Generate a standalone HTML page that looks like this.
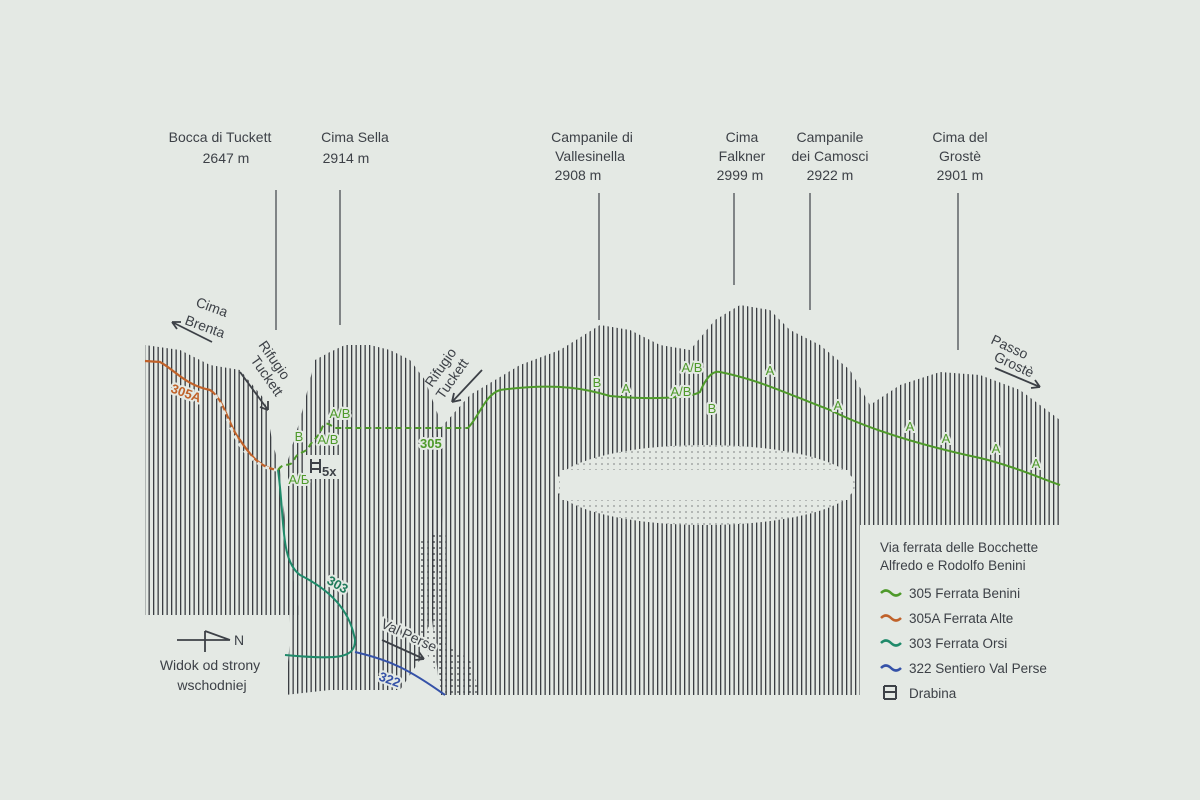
<!DOCTYPE html>
<html><head><meta charset="utf-8"><style>
html,body{margin:0;padding:0;background:#e4e9e4;}
svg{display:block}
text{font-family:"Liberation Sans",sans-serif;fill:#3d4147;}
.g{fill:#4e9a2a;stroke:#e4e9e4;stroke-width:4px;paint-order:stroke;stroke-linejoin:round}
.hl{stroke:#e4e9e4;stroke-width:4px;paint-order:stroke;stroke-linejoin:round}
</style></head><body>
<svg width="1200" height="800" viewBox="0 0 1200 800" xmlns="http://www.w3.org/2000/svg">
<defs>
<pattern id="h" width="4.5" height="12" patternUnits="userSpaceOnUse">
<rect x="0" y="0" width="1.3" height="12" fill="#3a3d42"/>
</pattern>
<pattern id="d" width="6" height="6" patternUnits="userSpaceOnUse">
<circle cx="2" cy="2" r="0.9" fill="#3a3d42"/>
</pattern>
</defs>
<rect width="1200" height="800" fill="#e4e9e4"/>

<polygon fill="url(#h)" points="145,345 180,350 210,365 240,370 265,400 272,440 280,470 285,520 290,560 300,615 145,615"/>
<polygon fill="url(#h)" points="285,470 300,420 315,360 330,352 345,345 370,345 390,350 410,360 425,380 440,420 445,470 440,560 430,620 420,660 400,690 330,690 285,695 290,640"/>
<polygon fill="url(#h)" points="430,440 470,395 520,365 560,350 600,325 630,330 660,345 690,350 715,320 740,305 770,310 790,330 820,345 850,370 870,405 900,385 940,372 980,375 1020,390 1060,420 1060,525 860,525 860,695 440,695 430,600"/>
<ellipse cx="705" cy="485" rx="150" ry="40" fill="#e4e9e4"/>
<ellipse cx="705" cy="485" rx="150" ry="40" fill="url(#d)" opacity="0.5"/>
<rect x="560" y="470" width="290" height="30" fill="#e4e9e4"/>
<polygon fill="url(#d)" points="420,540 445,530 450,620 440,680 420,640"/>
<polygon fill="url(#d)" points="440,640 470,660 480,695 440,695"/>

<g stroke="#3d4147" stroke-width="1.2">
<line x1="276" y1="190" x2="276" y2="330"/>
<line x1="340" y1="190" x2="340" y2="325"/>
<line x1="599" y1="193" x2="599" y2="320"/>
<line x1="734" y1="193" x2="734" y2="285"/>
<line x1="810" y1="193" x2="810" y2="310"/>
<line x1="958" y1="193" x2="958" y2="350"/>
</g>

<g font-size="14" text-anchor="middle">
<text x="220" y="142">Bocca di Tuckett</text><text x="226" y="163">2647 m</text>
<text x="355" y="142">Cima Sella</text><text x="346" y="163">2914 m</text>
<text x="592" y="142">Campanile di</text><text x="590" y="161">Vallesinella</text><text x="578" y="180">2908 m</text>
<text x="742" y="142">Cima</text><text x="742" y="161">Falkner</text><text x="740" y="180">2999 m</text>
<text x="830" y="142">Campanile</text><text x="830" y="161">dei Camosci</text><text x="830" y="180">2922 m</text>
<text x="960" y="142">Cima del</text><text x="960" y="161">Grostè</text><text x="960" y="180">2901 m</text>
<text x="210" y="670">Widok od strony</text><text x="212" y="690">wschodniej</text>
</g>
<g font-size="14">
<text transform="translate(195,306) rotate(20)">Cima</text>
<text transform="translate(184,324) rotate(20)">Brenta</text>
<text transform="translate(258,345) rotate(55)">Rifugio</text>
<text transform="translate(250,360) rotate(55)">Tuckett</text>
<text transform="translate(432,388) rotate(-55)">Rifugio</text>
<text transform="translate(443,400) rotate(-55)">Tuckett</text>
<text transform="translate(990,343) rotate(25)">Passo</text>
<text transform="translate(993,360) rotate(25)">Grostè</text>
<text class="hl" transform="translate(380,627) rotate(25)">Val Perse</text>
</g>
<g stroke="#3d4147" stroke-width="1.8" fill="none">
<path d="M212,342 L172,322 M172,322 l9,0 M172,322 l5,7"/>
<path d="M240,372 L268,410 M268,410 l0,-9 M268,410 l-8,-3"/>
<path d="M482,370 L452,402 M452,402 l9,-2 M452,402 l2,-9"/>
<path d="M995,368 L1040,387 M1040,387 l-9,1 M1040,387 l-5,-7"/>
<path d="M382,640 L424,659 M424,659 l-9,1 M424,659 l-5,-7"/>
<path d="M177,640 L230,640 M205,631 L230,640 M205,631 L205,652"/>
</g>
<text x="234" y="645" font-size="14">N</text>

<path d="M145,361 L160,362 C175,370 185,385 210,390 C225,400 228,425 240,440 C250,455 260,468 278,470" fill="none" stroke="#c0622a" stroke-width="2.2"/>
<path d="M215,395 C225,410 230,430 240,445 C250,460 265,470 278,470" fill="none" stroke="#e4e9e4" stroke-width="3" stroke-dasharray="4 5"/>
<text x="170" y="392" font-size="13" font-weight="bold" class="hl" style="fill:#c0622a" transform="rotate(20 170 392)">305A</text>
<path d="M278,470 C285,520 280,560 300,575 C330,590 350,610 355,640 C355,658 340,660 285,655" fill="none" stroke="#1f8a6a" stroke-width="2"/>
<text x="326" y="583" font-size="13" font-weight="bold" class="hl" style="fill:#1f7a5a" transform="rotate(30 326 583)">303</text>
<path d="M355,652 C390,660 410,670 445,695" fill="none" stroke="#3552a8" stroke-width="2"/>
<text x="378" y="680" font-size="13" font-weight="bold" class="hl" style="fill:#3552a8" transform="rotate(20 378 680)">322</text>
<path d="M278,470 C285,460 290,470 295,458 C300,450 305,455 310,445 C315,438 318,438 322,428 C325,420 330,425 335,428 L468,428" fill="none" stroke="#4e9a2a" stroke-width="2" stroke-dasharray="6 4"/>
<path d="M468,428 C480,415 485,395 500,390 C560,382 590,390 610,396 C650,400 690,398 700,392 C705,380 712,370 720,372 C760,380 790,395 830,410 C870,430 920,445 980,458 C1010,465 1040,478 1060,485" fill="none" stroke="#4e9a2a" stroke-width="2"/>
<text x="420" y="448" font-size="13" font-weight="bold" class="g">305</text>
<g font-size="13" text-anchor="middle">
<text x="340" y="418" class="g">A/B</text>
<text x="328" y="444" class="g">A/B</text>
<text x="299" y="441" class="g">B</text>
<text x="299" y="484" class="g">A/B</text>
<text x="597" y="387" class="g">B</text>
<text x="626" y="393" class="g">A</text>
<text x="692" y="372" class="g">A/B</text>
<text x="681" y="396" class="g">A/B</text>
<text x="712" y="413" class="g">B</text>
<text x="770" y="375" class="g">A</text>
<text x="838" y="410" class="g">A</text>
<text x="910" y="431" class="g">A</text>
<text x="946" y="443" class="g">A</text>
<text x="996" y="453" class="g">A</text>
<text x="1036" y="468" class="g">A</text>
</g>
<rect x="306" y="455" width="34" height="24" fill="#e4e9e4"/>
<g stroke="#3d4147" stroke-width="2" fill="none"><path d="M311,459 v14 M320,459 v14 M311,463 h9 M311,469 h9"/></g>
<text x="322" y="476" font-size="13" font-weight="bold">5x</text>

<rect x="868" y="528" width="200" height="180" fill="#e4e9e4"/>
<text x="880" y="552" font-size="13.5">Via ferrata delle Bocchette</text>
<text x="880" y="570" font-size="13.5">Alfredo e Rodolfo Benini</text>
<g fill="none" stroke-width="2.5">
<path d="M881,593 q5,-5 10,0 t10,0" stroke="#4e9a2a"/>
<path d="M881,618 q5,-5 10,0 t10,0" stroke="#c0622a"/>
<path d="M881,643 q5,-5 10,0 t10,0" stroke="#1f8a6a"/>
<path d="M881,668 q5,-5 10,0 t10,0" stroke="#3552a8"/>
</g>
<g stroke="#3d4147" stroke-width="2" fill="none"><path d="M884,686 v13 M896,686 v13 M884,692 h12 M884,686 h12 M884,699 h12"/></g>
<g font-size="13.5">
<text x="909" y="598">305 Ferrata Benini</text>
<text x="909" y="623">305A Ferrata Alte</text>
<text x="909" y="648">303 Ferrata Orsi</text>
<text x="909" y="673">322 Sentiero Val Perse</text>
<text x="909" y="698">Drabina</text>
</g>
</svg>
</body></html>
